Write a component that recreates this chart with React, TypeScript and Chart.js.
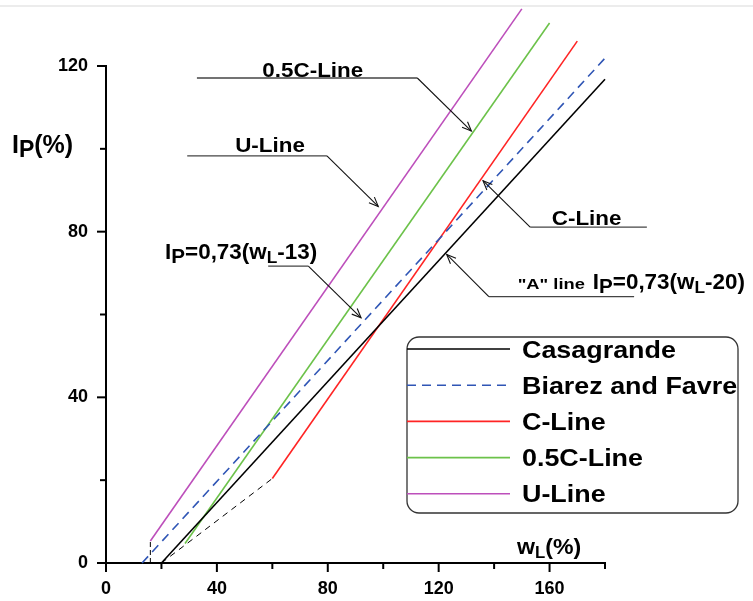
import React, { useEffect, useRef } from "react";
import { Chart, registerables } from "chart.js";

Chart.register(...registerables);

// ---- data (wL %, Ip %) ----
const casagrandeWL = [20, 180];
const casagrandeIP = [0, 116.8];
const biarezWL = [13, 180];
const biarezIP = [0, 121.9];
const cLineWL = [60, 170];
const cLineIP = [20.4, 126];
const halfCWL = [28.5, 160];
const halfCIP = [4.7, 130.4];
const uLineWL = [16, 150];
const uLineIP = [5.3, 133.8];
const lowCWL = [20, 60];
const lowCIP = [0, 20.4];
const uDropWL = [16, 16];
const uDropIP = [0, 5.3];

const legendLabels = ["Casagrande", "Biarez and Favre", "C-Line", "0.5C-Line", "U-Line"];
const xTickStep = 20;
const yTickStep = 20;
const labelEvery = 40;

const FONT = '"Liberation Sans", Arial, sans-serif';

const pts = (xs: number[], ys: number[]) => xs.map((x, i) => ({ x, y: ys[i] }));

type Part = { t: string; s: number; dy?: number };

function drawParts(ctx: CanvasRenderingContext2D, parts: Part[], x: number, y: number, sx = 1) {
  ctx.textBaseline = "alphabetic";
  ctx.textAlign = "left";
  for (const p of parts) {
    ctx.font = `bold ${p.s}px ${FONT}`;
    ctx.save();
    ctx.translate(x, y + (p.dy || 0));
    ctx.scale(sx, 1);
    ctx.fillText(p.t, 0, 0);
    ctx.restore();
    x += ctx.measureText(p.t).width * sx;
  }
}

const ipParts = (S: number): Part[] => [
  { t: "I", s: S },
  { t: "P", s: S * 0.92, dy: 4 },
];

function arrow(ctx: CanvasRenderingContext2D, x1: number, y1: number, x2: number, y2: number) {
  ctx.beginPath();
  ctx.moveTo(x1, y1);
  ctx.lineTo(x2, y2);
  ctx.stroke();
  const a = Math.atan2(y2 - y1, x2 - x1);
  const L = 10;
  const w = 0.4;
  ctx.beginPath();
  ctx.moveTo(x2 - L * Math.cos(a - w), y2 - L * Math.sin(a - w));
  ctx.lineTo(x2, y2);
  ctx.lineTo(x2 - L * Math.cos(a + w), y2 - L * Math.sin(a + w));
  ctx.stroke();
}

// annotations in data units: leader start/bend/tip
const annotations = [
  { parts: [{ t: "0.5C-Line", s: 20 }], tx: 56.4, ty: 117.4, sx: 1.12, hx1: 32.8, hx2: 112.3, hy: 117.1, bendX: 112.3, tipX: 131.8, tipY: 104.3 },
  { parts: [{ t: "U-Line", s: 20 }], tx: 46.6, ty: 99.3, sx: 1.12, hx1: 29.3, hx2: 79.7, hy: 98.3, bendX: 79.7, tipX: 98.2, tipY: 86.1 },
  { parts: [...ipParts(22), { t: "=0,73(w", s: 22 }, { t: "L", s: 17, dy: 4 }, { t: "-13)", s: 22 }], tx: 21.3, ty: 73.4, sx: 1.02, hx1: 58.5, hx2: 73.0, hy: 71.7, bendX: 73.0, tipX: 92.0, tipY: 59.2 },
  { parts: [{ t: "C-Line", s: 20 }], tx: 160.8, ty: 81.5, sx: 1.12, hx1: 153.0, hx2: 195.1, hy: 81.1, bendX: 153.0, tipX: 136, tipY: 92.3 },
];

const annotPlugin = {
  id: "annot",
  beforeDraw(chart: any) {
    const ctx = chart.ctx;
    ctx.save();
    ctx.strokeStyle = "#e6e6e6";
    ctx.lineWidth = 1.5;
    ctx.beginPath();
    ctx.moveTo(0, 6);
    ctx.lineTo(chart.width, 6);
    ctx.stroke();
    ctx.restore();
  },
  afterDraw(chart: any) {
    const ctx: CanvasRenderingContext2D = chart.ctx;
    const xs = chart.scales.x;
    const ys = chart.scales.y;
    const X = (v: number) => xs.getPixelForValue(v);
    const Y = (v: number) => ys.getPixelForValue(v);
    ctx.save();
    // tick marks
    ctx.strokeStyle = "#000";
    ctx.lineWidth = 2;
    for (const t of xs.ticks) {
      const p = X(t.value);
      const len = t.value % labelEvery === 0 ? 9 : 6;
      ctx.beginPath();
      ctx.moveTo(p, xs.top);
      ctx.lineTo(p, xs.top + len);
      ctx.stroke();
    }
    for (const t of ys.ticks) {
      const p = Y(t.value);
      const len = t.value % labelEvery === 0 ? 9 : 6;
      ctx.beginPath();
      ctx.moveTo(ys.right, p);
      ctx.lineTo(ys.right - len, p);
      ctx.stroke();
    }

    // axis titles
    ctx.fillStyle = "#000";
    drawParts(ctx, [...ipParts(25), { t: "(%)", s: 25 }], 12, 153, 1.0);
    drawParts(ctx, [{ t: "w", s: 22 }, { t: "L", s: 16, dy: 4 }, { t: "(%)", s: 22 }], 517, 554, 1.05);

    // annotations
    for (const a of annotations) {
      ctx.fillStyle = "#000";
      drawParts(ctx, a.parts as Part[], X(a.tx), Y(a.ty), a.sx);
      ctx.strokeStyle = "#444";
      ctx.lineWidth = 1.3;
      ctx.beginPath();
      ctx.moveTo(X(a.hx1), Y(a.hy));
      ctx.lineTo(X(a.hx2), Y(a.hy));
      ctx.stroke();
      ctx.strokeStyle = "#111";
      ctx.lineWidth = 1.1;
      arrow(ctx, X(a.bendX), Y(a.hy), X(a.tipX), Y(a.tipY));
    }
    // "A" line annotation
    ctx.fillStyle = "#000";
    drawParts(ctx, [{ t: '"A" line', s: 15 }], X(148.5), Y(66.1), 1.22);
    drawParts(ctx, [...ipParts(22), { t: "=0,73(w", s: 22 }, { t: "L", s: 17, dy: 4 }, { t: "-20)", s: 22 }], X(175.6), Y(66.1), 1.02);
    ctx.strokeStyle = "#444";
    ctx.lineWidth = 1.3;
    ctx.beginPath();
    ctx.moveTo(X(138.1), Y(64.3));
    ctx.lineTo(X(190.5), Y(64.3));
    ctx.stroke();
    ctx.strokeStyle = "#111";
    ctx.lineWidth = 1.1;
    arrow(ctx, X(138.1), Y(64.3), X(122.9), Y(74.5));

    // legend box
    const bx = 407, by = 337, bw = 331, bh = 176, r = 12;
    ctx.fillStyle = "#fff";
    ctx.strokeStyle = "#333";
    ctx.lineWidth = 1.3;
    ctx.beginPath();
    ctx.roundRect(bx, by, bw, bh, r);
    ctx.fill();
    ctx.stroke();
    const ds = chart.data.datasets.filter((d: any) => legendLabels.includes(d.label));
    ds.forEach((d: any, i: number) => {
      const ry = 349 + i * 36.2;
      ctx.strokeStyle = d.borderColor;
      ctx.lineWidth = d.borderWidth;
      ctx.setLineDash(d.borderDash || []);
      ctx.beginPath();
      ctx.moveTo(bx, ry);
      ctx.lineTo(510, ry);
      ctx.stroke();
      ctx.setLineDash([]);
      ctx.fillStyle = "#000";
      drawParts(ctx, [{ t: d.label, s: 24 }], 522, ry + 8.6, 1.12);
    });
    ctx.restore();
  },
};

export default function App() {
  const ref = useRef<HTMLCanvasElement>(null);
  useEffect(() => {
    if (!ref.current) return;
    const base = { showLine: true, pointRadius: 0, fill: false, clip: false as any, tension: 0 };
    const chart = new Chart(ref.current, {
      type: "scatter",
      data: {
        datasets: [
          { ...base, label: "aux1", data: pts(lowCWL, lowCIP), borderColor: "#000", borderWidth: 1, borderDash: [6, 5] },
          { ...base, label: "aux2", data: pts(uDropWL, uDropIP), borderColor: "#000", borderWidth: 1, borderDash: [5, 3] },
          { ...base, label: legendLabels[0], data: pts(casagrandeWL, casagrandeIP), borderColor: "#000000", borderWidth: 1.6 },
          { ...base, label: legendLabels[1], data: pts(biarezWL, biarezIP), borderColor: "#2f55b5", borderWidth: 1.6, borderDash: [9, 6] },
          { ...base, label: legendLabels[2], data: pts(cLineWL, cLineIP), borderColor: "#ff2424", borderWidth: 1.6 },
          { ...base, label: legendLabels[3], data: pts(halfCWL, halfCIP), borderColor: "#6cc24a", borderWidth: 1.6 },
          { ...base, label: legendLabels[4], data: pts(uLineWL, uLineIP), borderColor: "#bd4fbb", borderWidth: 1.6 },
        ],
      },
      options: {
        responsive: false,
        animation: false,
        layout: { padding: { left: 0, top: 66, right: 148, bottom: 0 } },
        plugins: { legend: { display: false }, tooltip: { enabled: false } },
        scales: {
          x: {
            type: "linear",
            min: 0,
            max: 180,
            grid: { display: false, drawTicks: false },
            border: { display: true, color: "#000", width: 2 },
            ticks: {
              stepSize: xTickStep,
              padding: 15,
              color: "#000",
              font: { family: FONT, size: 18, weight: "bold" },
              callback: (v: any) => (v % labelEvery === 0 && v < 180 ? String(v) : ""),
            },
            afterFit: (s: any) => { s.height = 38; },
          },
          y: {
            type: "linear",
            min: 0,
            max: 120,
            grid: { display: false, drawTicks: false },
            border: { display: true, color: "#000", width: 2 },
            ticks: {
              stepSize: yTickStep,
              padding: 18,
              color: "#000",
              font: { family: FONT, size: 18, weight: "bold" },
              callback: (v: any) => (v % labelEvery === 0 ? String(v) : ""),
            },
            afterFit: (s: any) => { s.width = 106; },
          },
        },
      },
      plugins: [annotPlugin],
    } as any);
    return () => chart.destroy();
  }, []);
  return (
    <div style={{ position: "fixed", left: 0, top: 0, width: 753, height: 601, background: "#fff" }}>
      <canvas ref={ref} width={753} height={601} style={{ display: "block" }} />
    </div>
  );
}
